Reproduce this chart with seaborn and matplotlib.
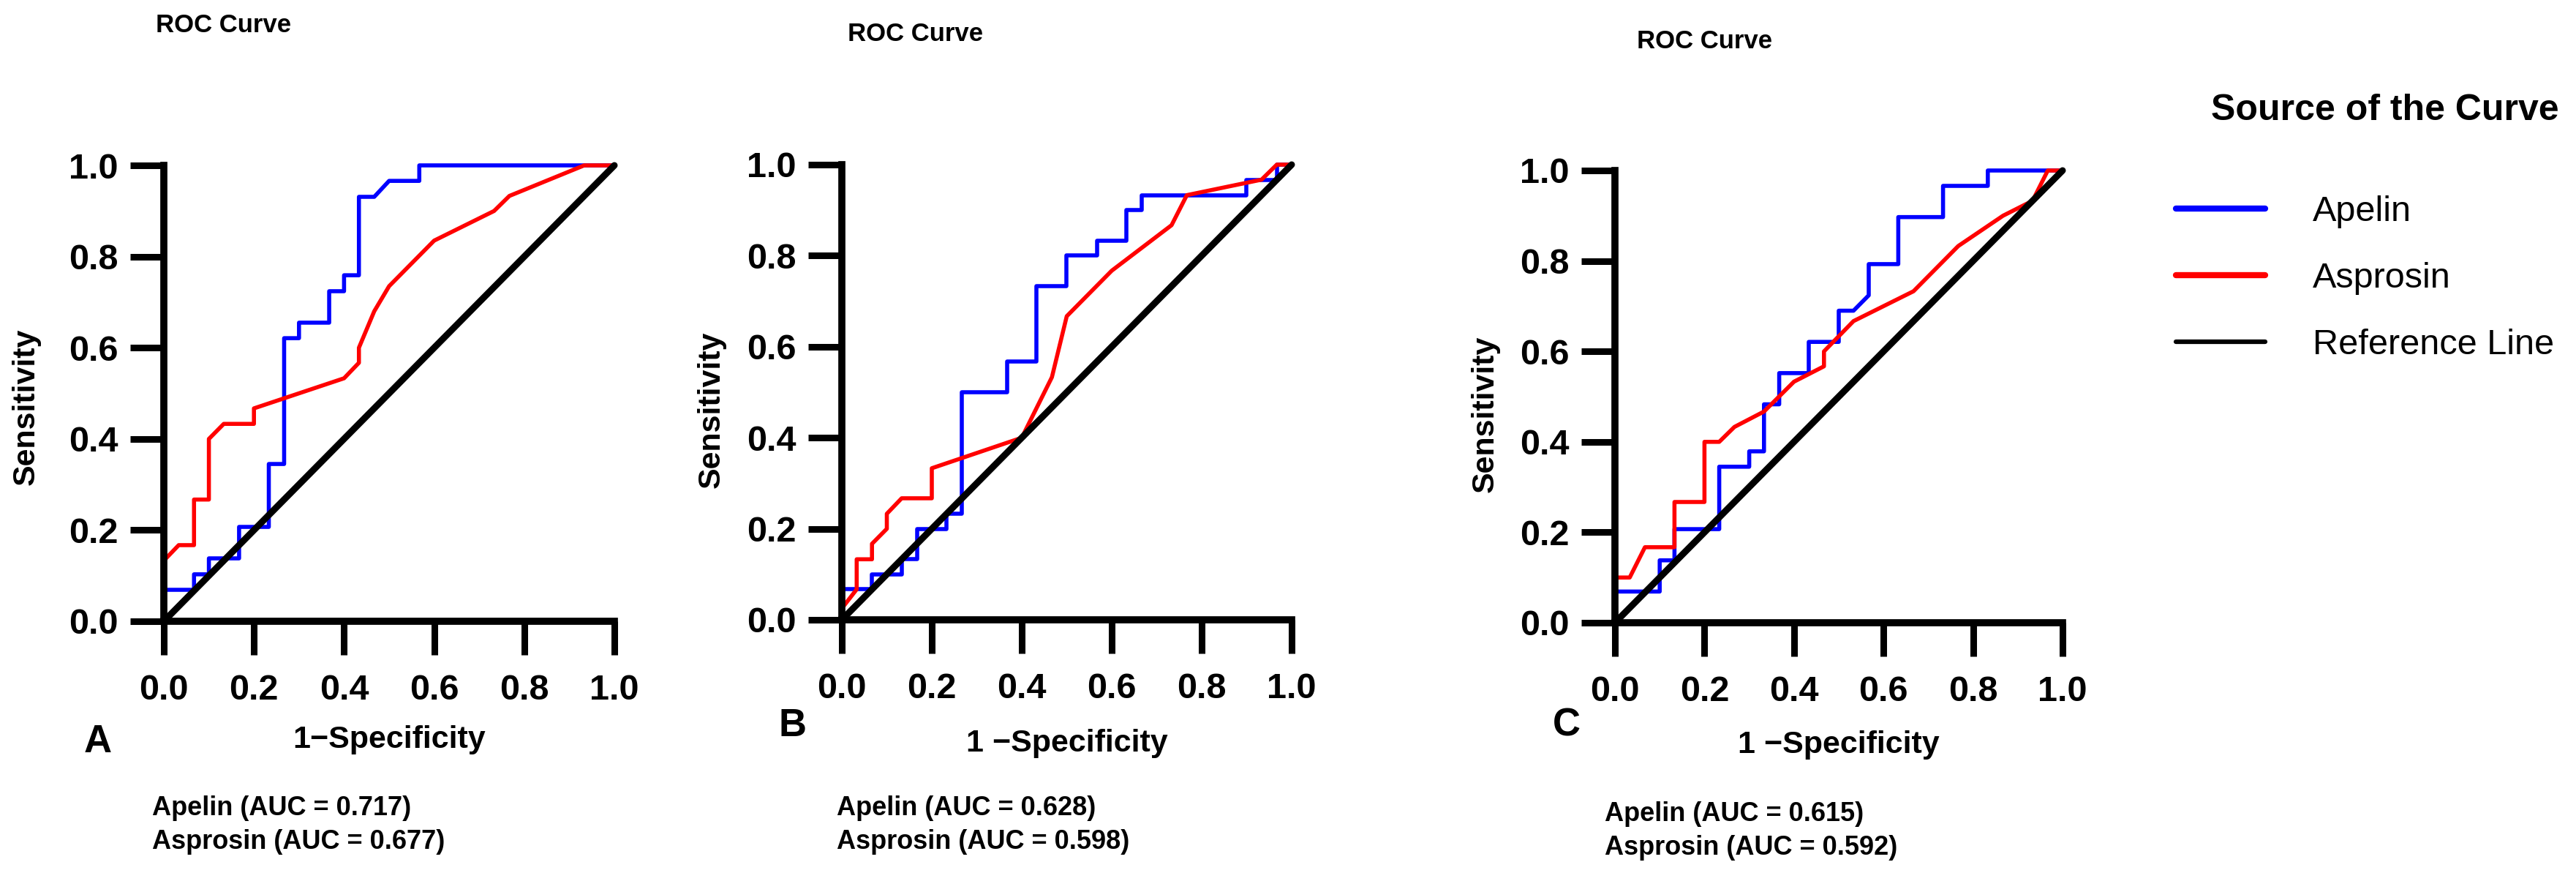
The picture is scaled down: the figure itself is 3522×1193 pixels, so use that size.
import matplotlib
matplotlib.use("Agg")
import matplotlib.pyplot as plt
import seaborn as sns
import pandas as pd
from matplotlib.lines import Line2D
from matplotlib.ticker import FormatStrFormatter

# ---- data (1-specificity, sensitivity) ----
panel_letters = ["A", "B", "C"]
series_names = ["Apelin", "Asprosin"]

apelin_fpr_a = [0.0, 0.0, 0.067, 0.067, 0.1, 0.1, 0.167, 0.167, 0.233, 0.233, 0.267, 0.267,
                0.3, 0.3, 0.367, 0.367, 0.4, 0.4, 0.433, 0.433, 0.467, 0.5, 0.567, 0.567, 1.0]
apelin_tpr_a = [0.0, 0.069, 0.069, 0.103, 0.103, 0.138, 0.138, 0.207, 0.207, 0.345, 0.345, 0.621,
                0.621, 0.655, 0.655, 0.724, 0.724, 0.759, 0.759, 0.931, 0.931, 0.966, 0.966, 1.0, 1.0]
asprosin_fpr_a = [0.0, 0.0, 0.033, 0.067, 0.067, 0.1, 0.1, 0.133, 0.2, 0.2, 0.4, 0.433, 0.433,
                  0.467, 0.5, 0.6, 0.733, 0.767, 0.933, 1.0]
asprosin_tpr_a = [0.0, 0.133, 0.167, 0.167, 0.267, 0.267, 0.4, 0.433, 0.433, 0.467, 0.533, 0.567, 0.6,
                  0.68, 0.735, 0.835, 0.9, 0.933, 1.0, 1.0]

apelin_fpr_b = [0.0, 0.0, 0.067, 0.067, 0.133, 0.133, 0.167, 0.167, 0.233, 0.233, 0.267, 0.267,
                0.367, 0.367, 0.433, 0.433, 0.5, 0.5, 0.567, 0.567, 0.633, 0.633, 0.667, 0.667,
                0.9, 0.9, 0.967, 0.967, 1.0]
apelin_tpr_b = [0.0, 0.067, 0.067, 0.1, 0.1, 0.133, 0.133, 0.2, 0.2, 0.233, 0.233, 0.5,
                0.5, 0.567, 0.567, 0.733, 0.733, 0.8, 0.8, 0.833, 0.833, 0.9, 0.9, 0.933,
                0.933, 0.967, 0.967, 1.0, 1.0]
asprosin_fpr_b = [0.0, 0.0, 0.033, 0.033, 0.067, 0.067, 0.1, 0.1, 0.133, 0.2, 0.2, 0.4, 0.467,
                  0.5, 0.6, 0.733, 0.767, 0.933, 0.967, 1.0]
asprosin_tpr_b = [0.0, 0.025, 0.067, 0.133, 0.133, 0.167, 0.2, 0.233, 0.267, 0.267, 0.333, 0.4, 0.533,
                  0.667, 0.767, 0.867, 0.933, 0.967, 1.0, 1.0]

apelin_fpr_c = [0.0, 0.0, 0.1, 0.1, 0.133, 0.133, 0.233, 0.233, 0.3, 0.3, 0.333, 0.333, 0.367, 0.367,
                0.433, 0.433, 0.5, 0.5, 0.533, 0.567, 0.567, 0.633, 0.633, 0.733, 0.733, 0.833,
                0.833, 1.0]
apelin_tpr_c = [0.0, 0.069, 0.069, 0.138, 0.138, 0.207, 0.207, 0.345, 0.345, 0.379, 0.379, 0.483,
                0.483, 0.552, 0.552, 0.621, 0.621, 0.69, 0.69, 0.724, 0.793, 0.793, 0.897, 0.897,
                0.966, 0.966, 1.0, 1.0]
asprosin_fpr_c = [0.0, 0.0, 0.033, 0.067, 0.133, 0.133, 0.2, 0.2, 0.233, 0.267, 0.333, 0.4, 0.467,
                  0.467, 0.533, 0.667, 0.767, 0.867, 0.933, 0.967, 1.0]
asprosin_tpr_c = [0.0, 0.1, 0.1, 0.167, 0.167, 0.267, 0.267, 0.4, 0.4, 0.433, 0.467, 0.533, 0.567,
                  0.6, 0.667, 0.733, 0.833, 0.9, 0.933, 1.0, 1.0]

ref_fpr = [0.0, 1.0]
ref_tpr = [0.0, 1.0]

auc_apelin = ["0.717", "0.628", "0.615"]
auc_asprosin = ["0.677", "0.598", "0.592"]
x_labels = ["1\u2212Specificity", "1 \u2212Specificity", "1 \u2212Specificity"]
tick_values = [0.0, 0.2, 0.4, 0.6, 0.8, 1.0]

curves = [
    (apelin_fpr_a, apelin_tpr_a, asprosin_fpr_a, asprosin_tpr_a),
    (apelin_fpr_b, apelin_tpr_b, asprosin_fpr_b, asprosin_tpr_b),
    (apelin_fpr_c, apelin_tpr_c, asprosin_fpr_c, asprosin_tpr_c),
]

colors = {"Apelin": "#0000ff", "Asprosin": "#ff0000"}

# ---- layout (pixels of the 3523 x 1193 canvas, measured from top-left) ----
W, H = 3523, 1193
axes_px = [(224, 226, 840, 849), (1151, 225, 1766, 847), (2208, 233, 2820, 851)]
title_px = [(213, 34), (1159, 47), (2238, 57)]
letter_px = [(115, 1014), (1064, 992), (2123, 991)]
auc_px = [(208, 1104, 1151), (1144, 1104, 1151), (2194, 1112, 1159)]
xlabel_y_px = [1011, 1016, 1018]
ylabel_px = [(36, 556), (973, 560), (2031, 566)]
tick_len_px = 46

sns.set_theme(style="white", context="paper")
plt.rcParams.update({
    "font.family": ["Liberation Sans", "DejaVu Sans"],
    "text.color": "black",
    "axes.labelcolor": "black",
    "xtick.color": "black",
    "ytick.color": "black",
})

fig = plt.figure(figsize=(W / 100, H / 100), dpi=100)


def fx(x):
    return x / W


def fy(y):
    return 1 - y / H


axes = []
for i, letter in enumerate(panel_letters):
    l, t, r, b = axes_px[i]
    ax = fig.add_axes([fx(l), fy(b), (r - l) / W, (b - t) / H])
    axes.append(ax)

    ap_x, ap_y, as_x, as_y = curves[i]
    df = pd.concat([
        pd.DataFrame({"fpr": ap_x, "tpr": ap_y, "source": "Apelin"}),
        pd.DataFrame({"fpr": as_x, "tpr": as_y, "source": "Asprosin"}),
    ], ignore_index=True)

    sns.lineplot(data=df, x="fpr", y="tpr", hue="source", palette=colors, sort=False,
                 estimator=None, linewidth=4, legend=False, ax=ax, clip_on=False)
    sns.lineplot(x=ref_fpr, y=ref_tpr, color="black", linewidth=6.5, ax=ax, clip_on=False,
                 solid_capstyle="round")

    ax.set_xlim(0, 1)
    ax.set_ylim(0, 1)
    ax.set_xticks(tick_values)
    ax.set_yticks(tick_values)
    ax.xaxis.set_major_formatter(FormatStrFormatter("%.1f"))
    ax.yaxis.set_major_formatter(FormatStrFormatter("%.1f"))
    sns.despine(ax=ax)
    for side in ["left", "bottom"]:
        ax.spines[side].set_linewidth(7)
        ax.spines[side].set_color("black")

    # outward tick marks drawn as short lines at the tick positions
    dx = tick_len_px / (r - l)
    dy = tick_len_px / (b - t)
    for v in tick_values:
        ax.plot([v, v], [0, -dy], color="black", lw=6.5, clip_on=False,
                solid_capstyle="butt")
        ax.plot([0, -dx], [v, v], color="black", lw=6.5, clip_on=False,
                solid_capstyle="butt")
    ax.tick_params(axis="both", length=0, labelsize=35, labelcolor="black")
    ax.tick_params(axis="x", pad=52)
    ax.tick_params(axis="y", pad=45)
    for lab in ax.get_xticklabels() + ax.get_yticklabels():
        lab.set_fontweight("bold")

    ax.set_xlabel(x_labels[i], fontsize=31, fontweight="bold")
    ax.xaxis.label.set_va("center")
    ax.xaxis.set_label_coords(0.5, -(xlabel_y_px[i] - b) / (b - t))
    ax.set_ylabel("Sensitivity", fontsize=31, fontweight="bold")
    ax.yaxis.label.set_va("center")
    ax.yaxis.label.set_ha("center")
    ax.yaxis.set_label_coords((ylabel_px[i][0] - l) / (r - l), (b - ylabel_px[i][1]) / (b - t))

    fig.text(fx(title_px[i][0]), fy(title_px[i][1]), "ROC Curve", fontsize=25,
             fontweight="bold", va="center", ha="left")
    fig.text(fx(letter_px[i][0]), fy(letter_px[i][1]), letter, fontsize=38,
             fontweight="bold", va="center", ha="left")
    ax_x, y1, y2 = auc_px[i]
    fig.text(fx(ax_x), fy(y1), f"Apelin (AUC = {auc_apelin[i]})", fontsize=26,
             fontweight="bold", va="center", ha="left")
    fig.text(fx(ax_x), fy(y2), f"Asprosin (AUC = {auc_asprosin[i]})", fontsize=26,
             fontweight="bold", va="center", ha="left")

# legend (attached to the last panel, positioned in figure coordinates)
fig.text(fx(3023), fy(151), "Source of the Curve", fontsize=36, fontweight="bold",
         va="center", ha="left")
handles = [Line2D([0], [0], color=colors["Apelin"], lw=6),
           Line2D([0], [0], color=colors["Asprosin"], lw=6),
           Line2D([0], [0], color="black", lw=4.5)]
axes[-1].legend(handles, ["Apelin", "Asprosin", "Reference Line"], loc="upper left",
                bbox_to_anchor=(fx(2975), fy(267)), bbox_transform=fig.transFigure,
                frameon=False, fontsize=35, handlelength=2.5, handletextpad=1.34,
                labelspacing=0.95, borderpad=0, borderaxespad=0)

fig.savefig("out.png", dpi=100)
